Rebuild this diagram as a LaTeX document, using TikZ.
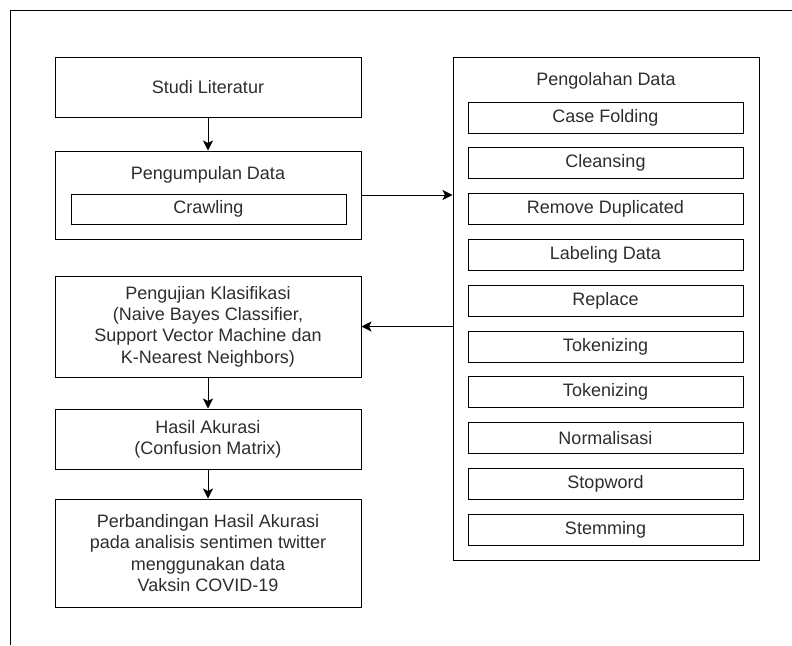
\documentclass[tikz,border=0pt]{standalone}
\usepackage{fontspec}
\setmainfont{Liberation Sans}
\usetikzlibrary{arrows.meta,calc}

\definecolor{txt}{RGB}{45,45,45}

\tikzset{
  x=1pt, y=1pt,
  box/.style={draw, line width=1pt, rectangle, minimum width=306pt, align=center,
    inner sep=0pt, text=txt, font=\fontsize{18}{21.3}\selectfont},
  sub/.style={draw, line width=1pt, rectangle, minimum width=275pt, minimum height=31pt,
    inner sep=0pt, text=txt, font=\fontsize{18}{21.3}\selectfont},
  title/.style={inner sep=0pt, text=txt, font=\fontsize{18}{21.3}\selectfont},
  flow/.style={line width=1pt, -{Stealth[length=10pt,width=10pt,inset=2.5pt]}},
  frame/.style={line width=1pt}
}

\begin{document}
\begin{tikzpicture}
  \useasboundingbox (0,0) rectangle (792,-645);

  % open frame: top and left edges only
  \coordinate (fc) at (10,-10);
  \coordinate (ftr) at (792,-10);
  \coordinate (fbl) at (10,-645);
  \draw[frame] (ftr) -- (fc) -- (fbl);

  % left column
  \node[box, minimum height=60pt] (studi) at (208,-87) {Studi Literatur};
  \node[box, minimum height=88pt] (kumpul) at (208,-195) {};
  \node[title] (kumpulT) at (208,-175) {Pengumpulan Data};
  \node[sub, minimum height=30pt] (crawl) at (208.5,-209) {Crawling};

  \node[box, minimum height=101pt] (uji) at (208,-326.5)
    {Pengujian Klasifikasi\\(Naive Bayes Classifier,\\Support Vector Machine dan\\K-Nearest Neighbors)};
  \node[box, minimum height=60pt] (hasil) at (208,-439)
    {Hasil Akurasi\\(Confusion Matrix)};
  \node[box, minimum height=108pt] (banding) at (208,-553)
    {Perbandingan Hasil Akurasi\\pada analisis sentimen twitter\\menggunakan data\\Vaksin COVID-19};

  % right column: preprocessing stages
  \node[box, minimum height=503pt] (olah) at (606,-308.5) {};
  \node[title] (olahT) at (606,-81) {Pengolahan Data};
  \foreach \name/\label [count=\i from 0] in {
      s0/Case Folding, s1/Cleansing, s2/Remove Duplicated, s3/Labeling Data,
      s4/Replace, s5/Tokenizing, s6/Tokenizing, s7/Normalisasi,
      s8/Stopword, s9/Stemming} {
    \node[sub] (\name) at (605.5,{-117.5-45.8*\i}) {\label};
  }

  % connectors
  \draw[flow] (studi.south) -- (kumpul.north);
  \draw[flow] (kumpul.east) -- (kumpul.east -| olah.west);
  \draw[flow] (uji.east -| olah.west) -- (uji.east);
  \draw[flow] (uji.south) -- (hasil.north);
  \draw[flow] (hasil.south) -- (banding.north);
\end{tikzpicture}
\end{document}
